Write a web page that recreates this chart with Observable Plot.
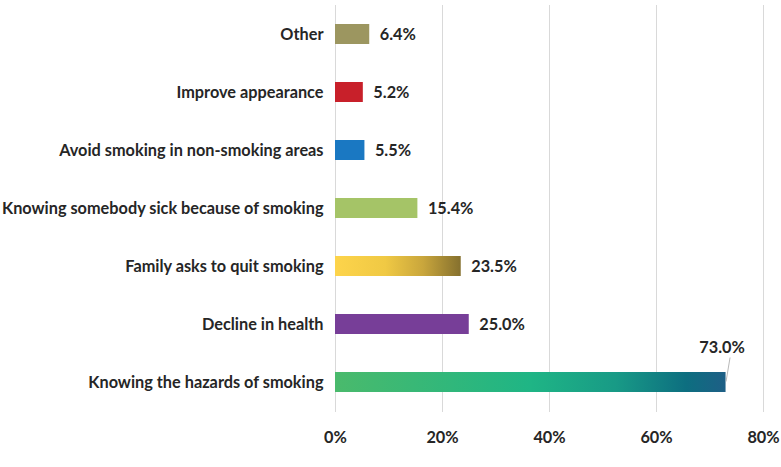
<!DOCTYPE html>
<html>
<head>
<meta charset="utf-8">
<script src="https://cdn.jsdelivr.net/npm/d3@7"></script>
<script src="https://cdn.jsdelivr.net/npm/@observablehq/plot@0.6"></script>
<style>
  html, body { margin: 0; padding: 0; background: #fff; }
  #chart svg { display: block; }
</style>
</head>
<body>
<div id="chart"></div>
<script>
const categories = [
  "Other",
  "Improve appearance",
  "Avoid smoking in non-smoking areas",
  "Knowing somebody sick because of smoking",
  "Family asks to quit smoking",
  "Decline in health",
  "Knowing the hazards of smoking"
];
const values = [6.4, 5.2, 5.5, 15.4, 23.5, 25.0, 73.0];
const fills = ["#9c9660", "#c8202a", "#1a78c2", "#a5c467", "url(#gradFamily)", "#773e98", "url(#gradHazards)"];
const xTicks = [0, 20, 40, 60, 80];

const data = categories.map((c, i) => ({category: c, value: values[i], fill: fills[i]}));
const normal = data.filter(d => d.value < 50);
const big = data.filter(d => d.value >= 50);

const font = "Lato, 'Open Sans', sans-serif";
const fs = 16.3;

const chart = Plot.plot({
  width: 781,
  height: 467,
  marginLeft: 335,
  marginRight: 18,
  marginTop: 5,
  marginBottom: 55,
  style: {fontFamily: font, fontSize: fs + "px", fontWeight: "bold", color: "#262626", background: "#fff"},
  x: {domain: [0, 80], ticks: xTicks, tickFormat: d => d + "%", label: null, tickSize: 0, tickPadding: 19},
  y: {domain: categories, label: null, tickSize: 0, tickPadding: 12, paddingInner: 0.655, paddingOuter: 0.3275},
  color: {type: "identity"},
  marks: [
    Plot.gridX(xTicks, {stroke: "#d9d9d9", strokeOpacity: 1, strokeWidth: 1}),
    Plot.barX(data, {y: "category", x: "value", fill: "fill"}),
    Plot.text(normal, {y: "category", x: "value", text: d => d.value.toFixed(1) + "%", textAnchor: "start", dx: 10, fill: "#262626", fontWeight: "bold", fontSize: fs}),
    Plot.text(big, {y: "category", x: "value", text: d => d.value.toFixed(1) + "%", textAnchor: "middle", dx: -4, dy: -35, fill: "#262626", fontWeight: "bold", fontSize: fs}),
    Plot.link(big, {y1: "category", y2: "category", x1: "value", x2: "value", stroke: "#a6a6a6", strokeWidth: 0.8})
  ]
});

// gradient defs
const ns = "http://www.w3.org/2000/svg";
const defs = document.createElementNS(ns, "defs");
defs.innerHTML = `
  <linearGradient id="gradFamily" x1="0" y1="0" x2="1" y2="0">
    <stop offset="0" stop-color="#fdd44b"/>
    <stop offset="0.4" stop-color="#f0c944"/>
    <stop offset="0.7" stop-color="#c9a63c"/>
    <stop offset="1" stop-color="#85702e"/>
  </linearGradient>
  <linearGradient id="gradHazards" x1="0" y1="0" x2="1" y2="0">
    <stop offset="0" stop-color="#4aba6c"/>
    <stop offset="0.5" stop-color="#1fb585"/>
    <stop offset="0.72" stop-color="#189a86"/>
    <stop offset="0.9" stop-color="#0d6e80"/>
    <stop offset="1" stop-color="#1e5f86"/>
  </linearGradient>`;
chart.insertBefore(defs, chart.firstChild);

// leader line for the 73.0% label: slanted line from label to bar end
chart.querySelectorAll("[aria-label='link'] path").forEach(el => {
  const d = el.getAttribute("d");
  const m = d && d.match(/M([\d.]+),([\d.]+)/);
  if (m) {
    const x = +m[1], y = +m[2];
    el.setAttribute("d", `M${x + 4},${y - 25}L${x},${y - 1}`);
  }
});

document.getElementById("chart").appendChild(chart);
</script>
</body>
</html>
